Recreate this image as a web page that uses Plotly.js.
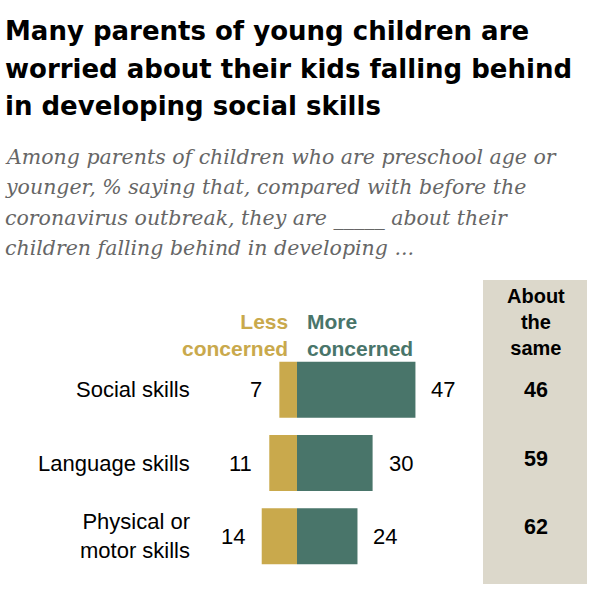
<!DOCTYPE html>
<html>
<head>
<meta charset="utf-8">
<script src="https://cdn.plot.ly/plotly-3.0.1.min.js"></script>
<style>
  html, body { margin: 0; padding: 0; background: #fff; }
  #chart { width: 616px; height: 616px; }
</style>
</head>
<body>
<div id="chart"></div>
<script>
// Survey results: parents of children preschool age or younger
const skills = ["Social skills", "Language skills", "Physical or<br>motor skills"];
const lessConcerned = [7, 11, 14];
const moreConcerned = [47, 30, 24];
const aboutSame = [46, 59, 62];

const GOLD = "#C9A94C";
const TEAL = "#49756A";
const BEIGE = "#DCD8CB";
const SANS = "Liberation Sans, Arial, sans-serif";
const HEAD = "DejaVu Sans, Liberation Sans, sans-serif";
const SERIF = "DejaVu Serif, Georgia, serif";

const W = 616, H = 616;
const plotTop = 353, plotBottom = 573;
// pixel row -> paper y
const py = v => (plotBottom - v) / (plotBottom - plotTop);
const px = v => v / W;

const traces = [
  {
    type: "bar", orientation: "h", name: "Less concerned",
    y: skills, x: lessConcerned.map(v => -v),
    marker: { color: GOLD }, hoverinfo: "skip"
  },
  {
    type: "bar", orientation: "h", name: "More concerned",
    y: skills, x: moreConcerned,
    marker: { color: TEAL }, hoverinfo: "skip"
  }
];

const annotations = [];

// Headline, one annotation per line
const titleLines = [
  "Many parents of young children are",
  "worried about their kids falling behind",
  "in developing social skills"
];
const titleRows = [31, 69, 106];
titleLines.forEach((t, i) => annotations.push({
  xref: "paper", yref: "paper", x: px(3), y: py(titleRows[i]),
  xanchor: "left", yanchor: "middle", showarrow: false, text: "<b>" + t + "</b>",
  font: { family: HEAD, size: 26, color: "#000" }
}));

// Subtitle, one annotation per line
const subtitleLines = [
  "Among parents of children who are preschool age or",
  "younger, % saying that, compared with before the",
  "coronavirus outbreak, they are _____ about their",
  "children falling behind in developing ..."
];
const subtitleRows = [157, 187, 218, 248];
subtitleLines.forEach((t, i) => annotations.push({
  xref: "paper", yref: "paper", x: px(3), y: py(subtitleRows[i]),
  xanchor: "left", yanchor: "middle", showarrow: false, text: t,
  font: { family: SERIF, size: 20.5, color: "#666666", style: "italic" }
}));

// Column headers
annotations.push({
  xref: "paper", yref: "paper", x: px(290), y: py(335), xanchor: "right", yanchor: "middle",
  showarrow: false, align: "right", text: "<b>Less<br>concerned</b>",
  font: { family: SANS, size: 21, color: GOLD }
});
annotations.push({
  xref: "paper", yref: "paper", x: px(305), y: py(335), xanchor: "left", yanchor: "middle",
  showarrow: false, align: "left", text: "<b>More<br>concerned</b>",
  font: { family: SANS, size: 21, color: TEAL }
});
annotations.push({
  xref: "paper", yref: "paper", x: px(536), y: py(322), xanchor: "center", yanchor: "middle",
  showarrow: false, align: "center", text: "<b>About<br>the<br>same</b>",
  font: { family: SANS, size: 20, color: "#000" }
});

// Row labels, value labels
const sameNudge = [0, 4, 9];
skills.forEach((s, i) => {
  annotations.push({
    xref: "paper", yref: "y", x: px(192), y: s, xanchor: "right", yanchor: "middle",
    showarrow: false, align: "right", text: s,
    font: { family: SANS, size: 22, color: "#000" }
  });
  annotations.push({
    xref: "x", yref: "y", x: -lessConcerned[i], y: s, xanchor: "right", yanchor: "middle",
    xshift: -15, showarrow: false, text: String(lessConcerned[i]),
    font: { family: SANS, size: 22, color: "#000" }
  });
  annotations.push({
    xref: "x", yref: "y", x: moreConcerned[i], y: s, xanchor: "left", yanchor: "middle",
    xshift: 14, showarrow: false, text: String(moreConcerned[i]),
    font: { family: SANS, size: 22, color: "#000" }
  });
  annotations.push({
    xref: "paper", yref: "y", x: px(536), y: s, xanchor: "center", yanchor: "middle",
    yshift: sameNudge[i], showarrow: false, text: "<b>" + aboutSame[i] + "</b>",
    font: { family: SANS, size: 21.5, color: "#000" }
  });
});

// x scale: zero at 297px, 2.52 px per percentage point
const zeroPx = 297, unit = 2.52;

const layout = {
  width: W, height: H,
  margin: { l: 0, r: 0, t: plotTop, b: H - plotBottom, pad: 0 },
  paper_bgcolor: "#fff", plot_bgcolor: "rgba(0,0,0,0)",
  showlegend: false,
  barmode: "relative",
  bargap: 0.236,
  xaxis: {
    range: [-zeroPx / unit, (W - zeroPx) / unit],
    visible: false, fixedrange: true
  },
  yaxis: {
    type: "category", range: [2.5, -0.5],
    visible: false, fixedrange: true
  },
  shapes: [{
    type: "rect", xref: "paper", yref: "paper", layer: "below",
    x0: px(483), x1: px(587), y0: py(280), y1: py(584),
    fillcolor: BEIGE, line: { width: 0 }
  }],
  annotations: annotations
};

Plotly.newPlot("chart", traces, layout, { displayModeBar: false, staticPlot: true });
</script>
</body>
</html>
